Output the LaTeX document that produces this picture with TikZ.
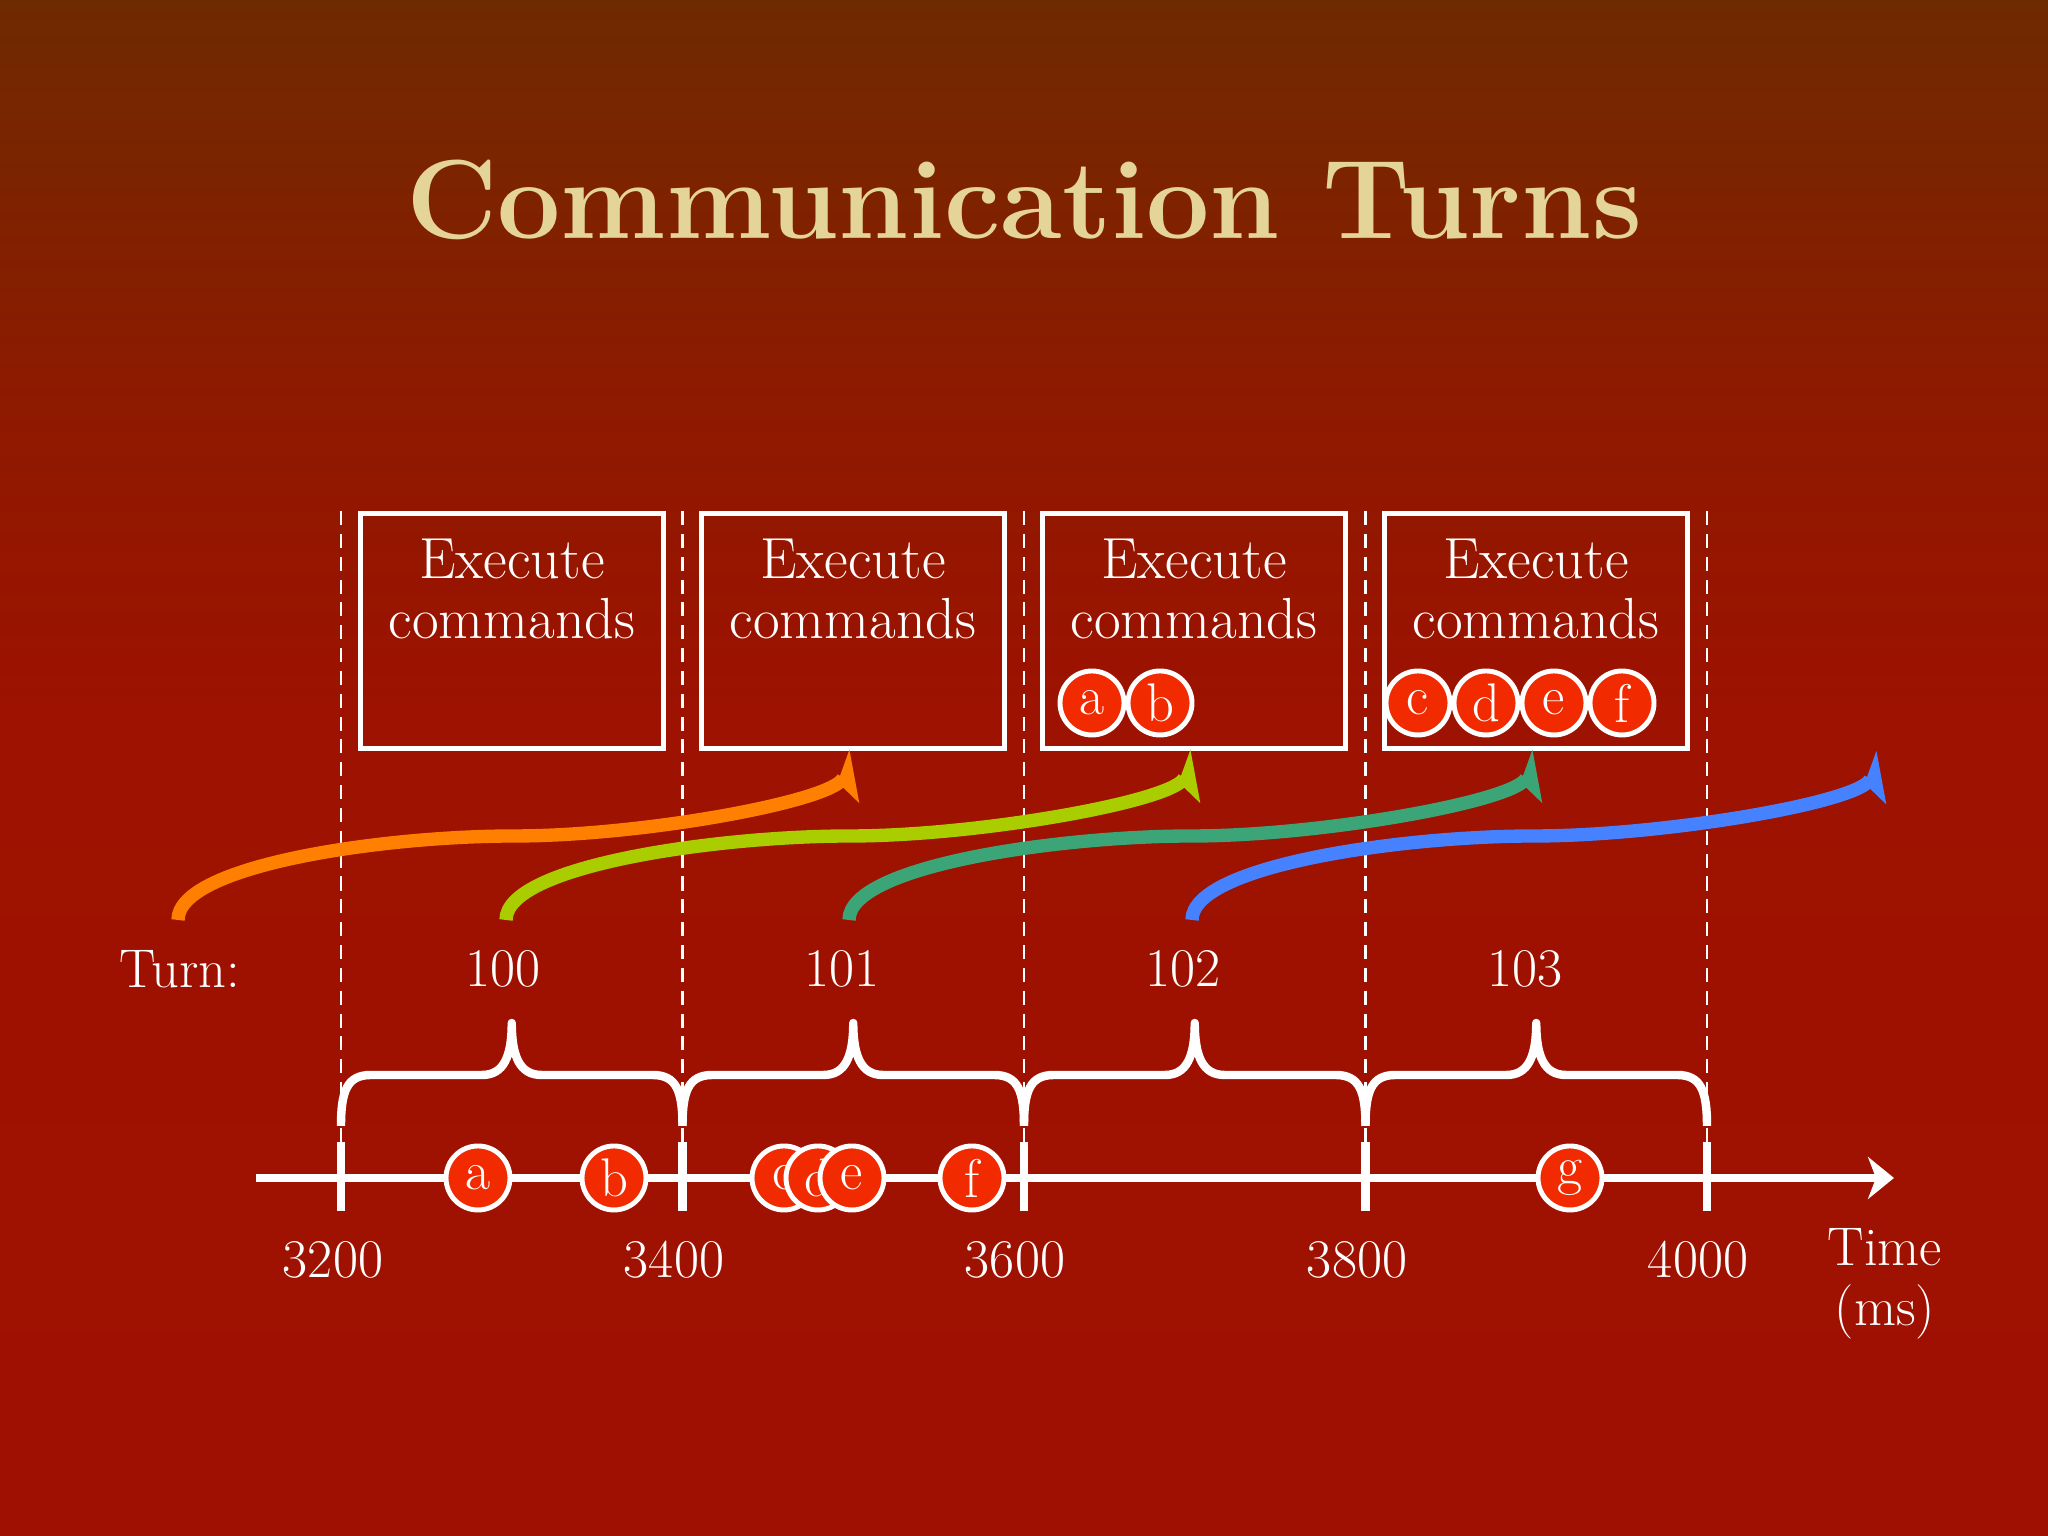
\documentclass[tikz,border=0pt]{standalone}
\usepackage{tikz}
\usetikzlibrary{arrows.meta,positioning}

\definecolor{bgtop}{RGB}{110,42,0}
\definecolor{bgupper}{RGB}{142,26,0}
\definecolor{bgmid}{RGB}{157,18,0}
\definecolor{bgbot}{RGB}{160,16,2}
\definecolor{titlegold}{RGB}{228,212,152}
\definecolor{evtred}{RGB}{242,42,0}
\definecolor{turnorange}{RGB}{255,128,0}
\definecolor{turnlime}{RGB}{170,205,0}
\definecolor{turnteal}{RGB}{60,165,120}
\definecolor{turnblue}{RGB}{70,130,255}

\pgfdeclareverticalshading{slidebg}{100bp}{color(0bp)=(bgbot); color(25bp)=(bgbot); color(52bp)=(bgmid); color(62bp)=(bgupper); color(75bp)=(bgtop); color(100bp)=(bgtop)}

\tikzset{
  lbl/.style={text=white, font=\fontsize{15.5}{17}\selectfont, inner sep=0pt},
  cmdtext/.style={lbl, font=\fontsize{16.5}{17}\selectfont, align=center, anchor=north},
  cmdbox/.style={draw=white, line width=1.3pt, minimum width=3.03cm, minimum height=2.35cm, inner sep=0pt},
  evt/.style={circle, fill=evtred, draw=white, line width=1.4pt, minimum size=0.64cm, inner sep=0pt, text=white, font=\fontsize{15.5}{17}\selectfont},
  slot/.style={white, line width=0.6pt, dash pattern=on 4pt off 2.5pt},
  axtick/.style={white, line width=2.4pt},
  turnarrow/.style={#1, line width=3.8pt, -{Stealth[harpoon,swap,length=0.40cm,width=0.46cm,inset=0.1cm]}},
  turnbrace/.pic={
    \draw[white, line width=2.4pt, line join=round]
      (0,0) .. controls (0,0.35) and (0.06,0.51) .. (0.30,0.51) -- (1.41,0.51)
      .. controls (1.63,0.51) and (1.7075,0.70) .. (1.7075,1.03)
      .. controls (1.7075,0.70) and (1.785,0.51) .. (2.005,0.51) -- (3.115,0.51)
      .. controls (3.355,0.51) and (3.415,0.35) .. (3.415,0);
  }
}

\begin{document}
\begin{tikzpicture}
    % Background
    \useasboundingbox (0,0) rectangle (20.48,15.36);
    \shade[shading=slidebg] (0,0) rectangle (20.48,15.36);
    % Title
    \node[text=titlegold, font=\fontsize{32}{40}\selectfont\bfseries, inner sep=0pt] (title) at (10.24,13.36) {Communication Turns};
    % Dashed turn boundaries
    \draw[slot] (3.41,10.25) -- (3.41,3.93);
    \draw[slot] (6.825,10.25) -- (6.825,3.93);
    \draw[slot] (10.24,10.25) -- (10.24,3.93);
    \draw[slot] (13.655,10.25) -- (13.655,3.93);
    \draw[slot] (17.07,10.25) -- (17.07,3.93);
    % Execute boxes
    \node[cmdbox] (cmd1) at (5.12,9.05) {};
    \node[cmdbox] (cmd2) at (8.53,9.05) {};
    \node[cmdbox] (cmd3) at (11.94,9.05) {};
    \node[cmdbox] (cmd4) at (15.36,9.05) {};
    \node[cmdtext] (cmdtxt1) at ([yshift=-0.27cm]cmd1.north) {Execute\\commands};
    \node[cmdtext] (cmdtxt2) at ([yshift=-0.27cm]cmd2.north) {Execute\\commands};
    \node[cmdtext] (cmdtxt3) at ([yshift=-0.27cm]cmd3.north) {Execute\\commands};
    \node[cmdtext] (cmdtxt4) at ([yshift=-0.27cm]cmd4.north) {Execute\\commands};
    % Commands executed in a turn
    \node[evt] (xa) at (10.92,8.33) {a};
    \node[evt] (xb) at (11.60,8.33) {b};
    \node[evt] (xc) at (14.18,8.33) {c};
    \node[evt] (xd) at (14.86,8.33) {d};
    \node[evt] (xe) at (15.54,8.33) {e};
    \node[evt] (xf) at (16.22,8.33) {f};
    % Turn arrows
    \coordinate (s1) at (1.78,6.16);
    \coordinate (m1) at (5.14,7.00);
    \coordinate (s2) at (5.06,6.16);
    \coordinate (m2) at (8.50,7.00);
    \coordinate (s3) at (8.49,6.16);
    \coordinate (m3) at (11.92,7.00);
    \coordinate (s4) at (11.92,6.16);
    \coordinate (m4) at (15.34,7.00);
    \coordinate (t4) at (18.80,7.84);
    \draw[turnarrow=turnorange] (s1) .. controls +(0,0.55) and +(-1.30,0) .. (m1) .. controls +(1.30,0) and +(-0.18,-0.50) .. (cmd2.south);
    \draw[turnarrow=turnlime] (s2) .. controls +(0,0.55) and +(-1.30,0) .. (m2) .. controls +(1.30,0) and +(-0.18,-0.50) .. (cmd3.south);
    \draw[turnarrow=turnteal] (s3) .. controls +(0,0.55) and +(-1.30,0) .. (m3) .. controls +(1.30,0) and +(-0.18,-0.50) .. (cmd4.south);
    \draw[turnarrow=turnblue] (s4) .. controls +(0,0.55) and +(-1.30,0) .. (m4) .. controls +(1.30,0) and +(-0.18,-0.50) .. (t4);
    % Turn numbers
    \node[lbl] (turnlbl) at (1.80,5.67) {Turn:};
    \node[lbl] (turn100) at (5.03,5.67) {100};
    \node[lbl] (turn101) at (8.42,5.67) {101};
    \node[lbl] (turn102) at (11.83,5.67) {102};
    \node[lbl] (turn103) at (15.25,5.67) {103};
    % Braces
    \pic at (3.41,4.10) {turnbrace};
    \pic at (6.825,4.10) {turnbrace};
    \pic at (10.24,4.10) {turnbrace};
    \pic at (13.655,4.10) {turnbrace};
    % Time axis
    \coordinate (axstart) at (2.56,3.58);
    \coordinate (axend) at (18.94,3.58);
    \draw[white, line width=2.4pt, -{Stealth[length=0.26cm,width=0.42cm,inset=0.08cm]}] (axstart) -- (axend);
    \draw[axtick] (3.41,3.94) -- (3.41,3.25);
    \draw[axtick] (6.825,3.94) -- (6.825,3.25);
    \draw[axtick] (10.24,3.94) -- (10.24,3.25);
    \draw[axtick] (13.655,3.94) -- (13.655,3.25);
    \draw[axtick] (17.07,3.94) -- (17.07,3.25);
    % Tick labels
    \node[lbl] (ms3200) at (3.33,2.76) {3200};
    \node[lbl] (ms3400) at (6.74,2.76) {3400};
    \node[lbl] (ms3600) at (10.15,2.76) {3600};
    \node[lbl] (ms3800) at (13.57,2.76) {3800};
    \node[lbl] (ms4000) at (16.98,2.76) {4000};
    \node[lbl, align=center] (timelbl) at (18.85,2.52) {Time\\(ms)};
    % Commands arriving
    \node[evt] (ea) at (4.78,3.58) {a};
    \node[evt] (eb) at (6.14,3.58) {b};
    \node[evt] (ec) at (7.84,3.58) {c};
    \node[evt] (ed) at (8.18,3.58) {d};
    \node[evt] (ee) at (8.52,3.58) {e};
    \node[evt] (ef) at (9.72,3.58) {f};
    \node[evt] (eg) at (15.70,3.58) {g};
  \end{tikzpicture}
\end{document}
